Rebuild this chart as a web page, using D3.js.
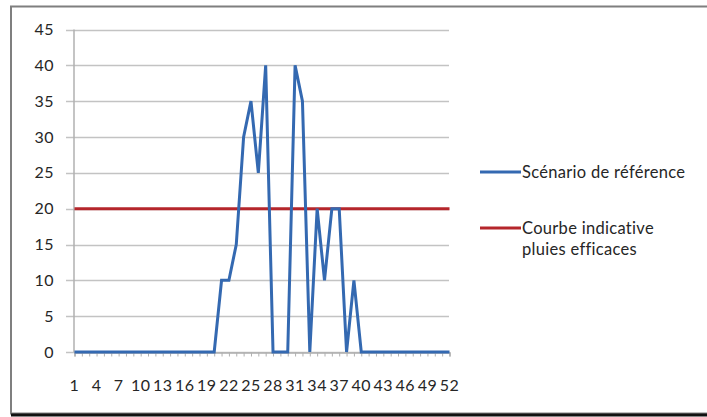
<!DOCTYPE html>
<html><head><meta charset="utf-8">
<script src="https://cdn.jsdelivr.net/npm/d3@7"></script>
<style>html,body{margin:0;padding:0;background:#fff;}svg{display:block;}</style>
</head><body>
<svg id="c" width="707" height="417"></svg>
<script>
const weeks = d3.range(1, 53);
const scenarioValues = [0,0,0,0,0,0,0,0,0,0, 0,0,0,0,0,0,0,0,0,0, 10,10,15,30,35,25,40,0,0,0, 40,35,0,20,10,20,20,0,10,0, 0,0,0,0,0,0,0,0,0,0, 0,0];
const seuilValues = weeks.map(() => 20);
const yTicks = [0,5,10,15,20,25,30,35,40,45];
const xTickLabels = [1,4,7,10,13,16,19,22,25,28,31,34,37,40,43,46,49,52];
const seriesNames = ["Scénario de référence", ["Courbe indicative", "pluies efficaces"]];
const colors = ["#3469b1", "#b5262b"];

const svg = d3.select("#c");
const font = "Lato, 'Open Sans', sans-serif";

// frame
svg.append("rect").attr("x",11).attr("y",6.5).attr("width",710).attr("height",407)
  .attr("fill","none").attr("stroke","#7f7f7f").attr("stroke-width",2);
svg.append("line").attr("x1",11).attr("x2",707).attr("y1",415).attr("y2",415)
  .attr("stroke","#111").attr("stroke-width",3);

const x = d3.scalePoint().domain(weeks).range([74.5, 449.5]);
const y = d3.scaleLinear().domain([0,45]).range([352, 29.5]);

// gridlines
svg.append("g").selectAll("line").data(yTicks).join("line")
  .attr("x1",66).attr("x2",449).attr("y1",d=>Math.round(y(d))+0.5).attr("y2",d=>Math.round(y(d))+0.5)
  .attr("stroke","#c3c3c3").attr("stroke-width",1.5);

// y axis line
svg.append("line").attr("x1",74).attr("x2",74).attr("y1",y(45)).attr("y2",y(0))
  .attr("stroke","#b0b0b0").attr("stroke-width",1.5);

// y labels
svg.append("g").selectAll("text").data(yTicks).join("text")
  .attr("x",54).attr("y",d=>y(d)).attr("dy","0.35em").attr("text-anchor","end")
  .attr("font-family",font).attr("font-size",16).attr("letter-spacing",0.5).attr("fill","#262626").text(d=>d);

// x axis with minor ticks
const xAxis = d3.axisBottom(x).tickSize(4).tickFormat("");
const gx = svg.append("g").attr("transform",`translate(0,${y(0)+0.5})`).call(xAxis);
gx.select(".domain").attr("stroke","#b0b0b0").attr("stroke-width",1.5);
gx.selectAll(".tick line").attr("stroke","#b0b0b0");

svg.append("g").selectAll("text").data(xTickLabels).join("text")
  .attr("x",d=>x(d)).attr("y",391).attr("text-anchor","middle")
  .attr("font-family",font).attr("font-size",16).attr("letter-spacing",0.5).attr("fill","#262626").text(d=>d);

// lines
const line = d3.line().x((d,i)=>x(weeks[i])).y(d=>y(d));
svg.append("path").datum(seuilValues).attr("d",line).attr("fill","none")
  .attr("stroke",colors[1]).attr("stroke-width",3);
svg.append("path").datum(scenarioValues).attr("d",line).attr("fill","none")
  .attr("stroke",colors[0]).attr("stroke-width",3).attr("stroke-linejoin","miter");

// legend
const lg = svg.append("g");
const fs = 16.5;
lg.append("line").attr("x1",480).attr("x2",521).attr("y1",172).attr("y2",172).attr("stroke",colors[0]).attr("stroke-width",3);
lg.append("text").attr("x",522).attr("y",172).attr("dy","0.35em").attr("font-family",font).attr("font-size",fs).attr("letter-spacing",0.3).attr("fill","#262626").text(seriesNames[0]);
lg.append("line").attr("x1",480).attr("x2",521).attr("y1",228).attr("y2",228).attr("stroke",colors[1]).attr("stroke-width",3);
const t2 = lg.append("text").attr("font-family",font).attr("font-size",fs).attr("letter-spacing",0.3).attr("fill","#262626");
seriesNames[1].forEach((s,i)=>t2.append("tspan").attr("x",522).attr("y",228+i*21).attr("dy","0.35em").text(s));
</script>
</body></html>
